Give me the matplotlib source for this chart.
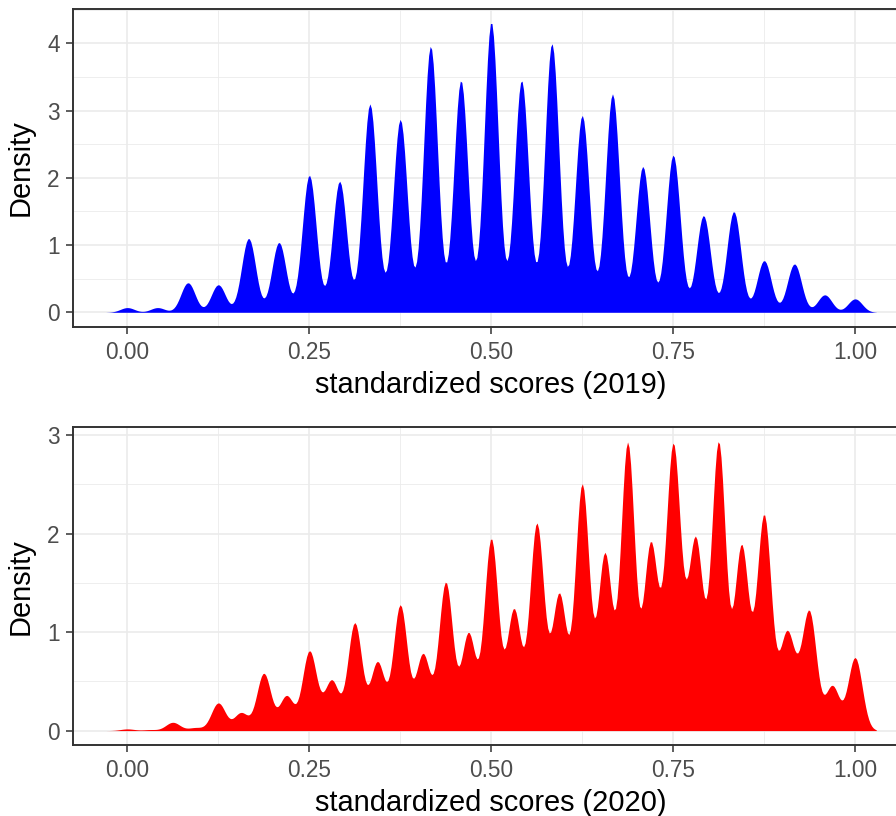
import numpy as np
import matplotlib
matplotlib.use("Agg")
import matplotlib.pyplot as plt

plt.rcParams['font.family'] = ['Liberation Sans', 'DejaVu Sans']

# raw scores (points) and the peak density read at each score level
max_2019 = 24
raw_2019 = [0, 1, 2, 3, 4, 5, 6, 7, 8, 9, 10, 11, 12, 13, 14, 15, 16,
            17, 18, 19, 20, 21, 22, 23, 24]
peak_2019 = [0.07, 0.07, 0.44, 0.41, 1.10, 1.04, 2.04, 1.95, 3.10, 2.87,
             3.96, 3.45, 4.32, 3.45, 4.00, 2.93, 3.25, 2.17, 2.34, 1.44,
             1.50, 0.77, 0.72, 0.26, 0.20]

max_2020 = 32
raw_2020 = [0, 1, 2, 3, 4, 5, 6, 7, 8, 9, 10, 11, 12, 13, 14, 15, 16,
            17, 18, 19, 20, 21, 22, 23, 24, 25, 26, 27, 28, 29, 30, 31, 32]
peak_2020 = [0.017, 0.01, 0.084, 0.03, 0.28, 0.18, 0.58, 0.35, 0.79, 0.49,
             1.09, 0.69, 1.27, 0.77, 1.50, 0.98, 1.94, 1.22, 2.07, 1.35,
             2.49, 1.78, 2.91, 1.82, 2.74, 1.82, 2.89, 1.83, 2.12, 0.91,
             1.15, 0.45, 0.74]
# scores falling between the grid levels (2020 only)
extra_raw_2020 = [8.5, 18.5, 23.5, 24.5, 25.5, 27.5, 28.5, 29.5]
extra_peak_2020 = [0.06, 0.09, 0.25, 0.34, 0.10, 0.13, 0.10, 0.23]

bandwidth = 0.0097
x_ticks = [0.0, 0.25, 0.5, 0.75, 1.0]
x_ticklabels = ["0.00", "0.25", "0.50", "0.75", "1.00"]


def density_curve(raw, max_score, peaks, bw, n=512):
    scores = np.array(raw) / max_score
    peaks = np.array(peaks)
    xs = np.linspace(scores.min() - 3 * bw, scores.max() + 3 * bw, n)
    ys = (peaks[None, :] * np.exp(-0.5 * ((xs[:, None] - scores[None, :]) / bw) ** 2)).sum(axis=1)
    return xs, ys


def style_panel(ax, ymax):
    top = 1.05 * ymax
    ax.set_xlim(-0.074, 1.074)
    ax.set_ylim(-0.05 * ymax, top)
    ax.set_xticks(x_ticks)
    ax.set_xticklabels(x_ticklabels)
    ax.set_xticks([0.125, 0.375, 0.625, 0.875], minor=True)
    yt = list(range(int(np.floor(top)) + 1))
    ax.set_yticks(yt)
    ax.set_yticks([v + 0.5 for v in yt if v + 0.5 < top], minor=True)
    ax.grid(which='major', color='#EBEBEB', linewidth=1.2)
    ax.grid(which='minor', color='#EBEBEB', linewidth=0.6)
    ax.set_axisbelow(True)
    ax.tick_params(which='major', length=5, width=1.1, color='#333333',
                   labelsize=16.3, labelcolor='#4D4D4D', pad=5)
    ax.tick_params(which='minor', length=0)
    for sp in ax.spines.values():
        sp.set_color('#333333')
        sp.set_linewidth(1.4)
    ax.set_ylabel("Density", fontsize=20.9, color='black', labelpad=9)


fig = plt.figure(figsize=(8.96, 8.16), dpi=100)
ax1 = fig.add_axes([0.082, 0.5996, 0.9324, 0.3893])
ax2 = fig.add_axes([0.082, 0.0870, 0.9324, 0.3893])

xs, ys = density_curve(raw_2019, max_2019, peak_2019, bandwidth)
ax1.fill_between(xs, 0, ys, color='#0000FF', linewidth=0)
style_panel(ax1, ys.max())
ax1.set_xlabel("standardized scores (2019)", fontsize=20.9, labelpad=5)

xs, ys = density_curve(raw_2020 + extra_raw_2020, max_2020,
                       peak_2020 + extra_peak_2020, bandwidth)
ax2.fill_between(xs, 0, ys, color='#FF0000', linewidth=0)
style_panel(ax2, ys.max())
ax2.set_xlabel("standardized scores (2020)", fontsize=20.9, labelpad=5)

fig.savefig("out.png", dpi=100)
